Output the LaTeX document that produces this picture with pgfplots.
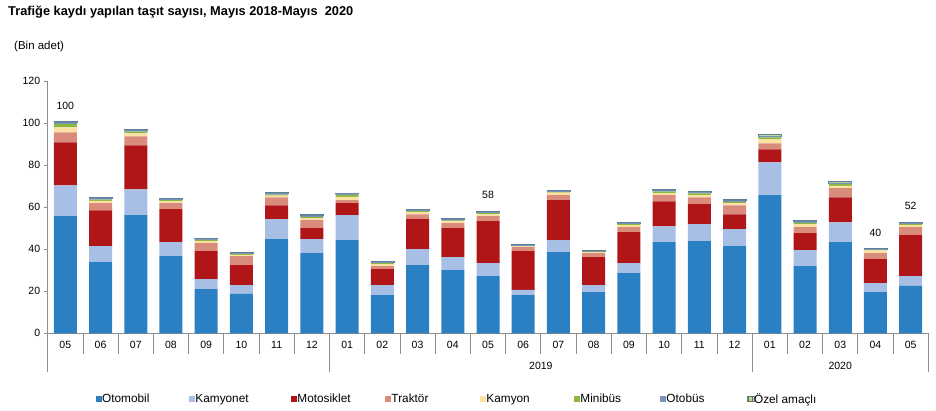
\documentclass[border=0pt]{standalone}
\usepackage{pgfplots}
\pgfplotsset{compat=1.18}
\usepackage{pgfplotstable}
\usepackage{fontspec}
\setmainfont{Liberation Sans}
\definecolor{cOto}{HTML}{2B7FC3}
\definecolor{cKamyonet}{HTML}{A7BFE4}
\definecolor{cMoto}{HTML}{B01518}
\definecolor{cTrak}{HTML}{DA8C7C}
\definecolor{cKamyon}{HTML}{FCE1A2}
\definecolor{cMini}{HTML}{8CB840}
\definecolor{cOtobus}{HTML}{7A93BE}
\definecolor{cOzel}{HTML}{C3D69B}
\definecolor{cOzelD}{HTML}{5E7D4A}
\definecolor{cOzelBar}{HTML}{5C8098}
\definecolor{cAxis}{HTML}{8C8C8C}
\pgfplotstableread{
x  oto   kamyonet moto  trak kamyon mini otobus ozel
0  55.7  14.7     20.4  4.8  2.3    1.6  0.8    0.5
1  33.9  7.6      17.0  3.4  1.1    0.6  0.6    0.3
2  56.2  12.3     20.9  4.3  1.4    0.8  0.6    0.3
3  36.7  6.7      15.6  2.9  0.9    0.5  0.6    0.3
4  21.0  4.8      13.3  3.8  0.9    0.6  0.6    0.4
5  18.7  4.2      9.5   4.3  0.6    0.4  0.4    0.3
6  44.8  9.5      6.6   3.8  0.8    0.5  0.6    0.3
7  38.1  6.7      5.2   3.8  0.9    0.7  0.6    0.4
8  44.3  11.9     5.7   1.4  1.6    0.9  0.7    0.3
9  18.2  4.7      7.6   1.5  0.9    0.5  0.5    0.3
10 32.4  7.6      14.3  2.3  1.0    0.5  0.6    0.3
11 30.1  6.1      13.8  2.4  0.9    0.3  0.5    0.5
12 27.2  6.2      19.9  2.4  0.9    0.5  0.5    0.4
13 18.2  2.4      18.5  1.9  0.3    0.2  0.4    0.4
14 38.6  5.7      19.0  2.4  1.2    0.3  0.5    0.3
15 19.6  3.3      13.3  1.9  0.5    0.3  0.3    0.4
16 28.6  4.8      14.7  2.4  0.9    0.5  0.5    0.4
17 43.4  7.5      11.9  2.9  0.9    0.8  0.6    0.5
18 43.8  8.1      9.5   3.3  1.0    0.8  0.6    0.5
19 41.5  8.0      7.1   4.3  1.0    0.6  0.6    0.7
20 65.7  15.6     6.2   2.8  1.9    1.0  0.6    0.8
21 32.0  7.6      8.0   2.9  1.4    0.6  0.7    0.6
22 43.4  9.4      11.9  4.3  1.1    0.8  0.6    0.8
23 19.6  4.3      11.4  2.8  1.3    0.3  0.3    0.5
24 22.5  4.7      19.5  3.8  0.9    0.5  0.5    0.4
}\datatable
\begin{document}
\begin{tikzpicture}
\useasboundingbox (0pt,0pt) rectangle (936pt,411pt);
\node[anchor=west, inner sep=0pt, font=\bfseries\fontsize{12.8}{14}\selectfont] at (8pt,399pt) {Trafiğe kaydı yapılan taşıt sayısı, Mayıs 2018-Mayıs~ 2020};
\node[anchor=west, inner sep=0pt, font=\fontsize{11.5}{13}\selectfont] at (14pt,364.5pt) {(Bin adet)};
\begin{axis}[
  at={(47.7pt,77.7pt)}, anchor=south west,
  scale only axis, width=880.6pt, height=252.3pt,
  ybar stacked, bar width=23pt,
  xmin=-0.5, xmax=24.5, ymin=0, ymax=120,
  clip=false,
  axis x line*=bottom, axis y line*=left,
  axis line style={draw=cAxis, line width=0.8pt},
  tick align=outside,
  major tick length=4pt,
  minor tick length=20.5pt,
  ytick={0,20,...,120},
  ytick style={draw=cAxis, line width=0.8pt},
  yticklabel style={font=\fontsize{10.5}{12}\selectfont, /pgf/number format/assume math mode=true},
  xtick={0,...,24},
  xticklabels={05,06,07,08,09,10,11,12,01,02,03,04,05,06,07,08,09,10,11,12,01,02,03,04,05},
  xtick style={draw=none},
  minor xtick={-0.5,0.5,...,24.5},
  minor x tick style={draw=cAxis, line width=0.8pt},
  xticklabel style={font=\fontsize{10.5}{12}\selectfont, anchor=center, yshift=-7.7pt},
  legend columns=8,
  legend image code/.code={\path (0pt,-2.6pt) rectangle (6.3pt,2.6pt); \fill[#1] (0pt,-2.6pt) rectangle (5.2pt,2.6pt);},
  legend style={at={(0.0545,-0.2604)}, anchor=west, draw=none, fill=none,
     inner xsep=0pt, inner ysep=0pt,
     nodes={inner sep=0pt, font=\fontsize{11.8}{13}\selectfont},
     /tikz/every odd column/.append style={column sep=0pt},
     /tikz/every even column/.append style={column sep=0pt}},
]
\addplot[fill=cOto, draw=none] table[x=x,y=oto]{\datatable};
\addplot[fill=cKamyonet, draw=none] table[x=x,y=kamyonet]{\datatable};
\addplot[fill=cMoto, draw=none] table[x=x,y=moto]{\datatable};
\addplot[fill=cTrak, draw=none] table[x=x,y=trak]{\datatable};
\addplot[fill=cKamyon, draw=none] table[x=x,y=kamyon]{\datatable};
\addplot[fill=cMini, draw=none] table[x=x,y=mini]{\datatable};
\addplot[fill=cOtobus, draw=none] table[x=x,y=otobus]{\datatable};
\addplot[fill=cOzel, draw=cOzelBar, line width=0.6pt,
  legend image code/.code={\path (0pt,-2.6pt) rectangle (6.3pt,2.6pt); \filldraw[fill=cOzel, draw=cOzelD, line width=0.6pt] (0.3pt,-2.3pt) rectangle (4.9pt,2.3pt);}] table[x=x,y=ozel]{\datatable};
\legend{\makebox[87pt][l]{Otomobil},\makebox[95.7pt][l]{Kamyonet},\makebox[87.7pt][l]{Motosiklet},\makebox[88.7pt][l]{Traktör},\makebox[87.7pt][l]{Kamyon},\makebox[79.7pt][l]{Minibüs},\makebox[80.7pt][l]{Otobüs},\makebox[66pt][l]{Özel amaçlı}}
% category group separators and year labels
\draw[cAxis, line width=0.8pt] (axis cs:-0.5,0) -- ++(0pt,-38.4pt);
\draw[cAxis, line width=0.8pt] (axis cs:7.5,0) -- ++(0pt,-38.4pt);
\draw[cAxis, line width=0.8pt] (axis cs:19.5,0) -- ++(0pt,-38.4pt);
\draw[cAxis, line width=0.8pt] (axis cs:24.5,0) -- ++(0pt,-38.4pt);
\node[font=\fontsize{10.5}{12}\selectfont] at (axis cs:13.5,0) [yshift=-33pt] {2019};
\node[font=\fontsize{10.5}{12}\selectfont] at (axis cs:22,0) [yshift=-33pt] {2020};
% total labels
\node[font=\fontsize{10.5}{12}\selectfont] at (axis cs:0,100.8) [yshift=15.5pt] {100};
\node[font=\fontsize{10.5}{12}\selectfont] at (axis cs:12,58.0) [yshift=16.5pt] {58};
\node[font=\fontsize{10.5}{12}\selectfont] at (axis cs:23,40.5) [yshift=15.5pt] {40};
\node[font=\fontsize{10.5}{12}\selectfont] at (axis cs:24,52.8) [yshift=16pt] {52};
\end{axis}
\end{tikzpicture}
\end{document}
